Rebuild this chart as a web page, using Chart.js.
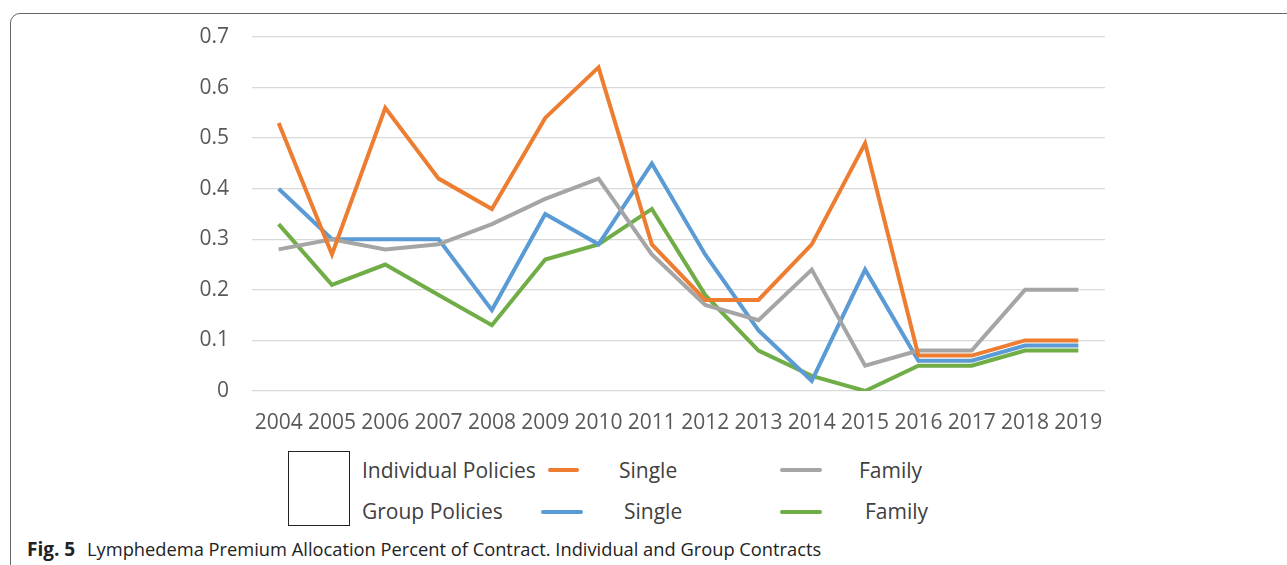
<!DOCTYPE html>
<html>
<head>
<meta charset="utf-8">
<script src="https://cdn.jsdelivr.net/npm/chart.js@4/dist/chart.umd.min.js"></script>
<style>
  body { margin: 0; background: #fff; font-family: "Open Sans", sans-serif; }
  #frame {
    position: absolute; left: 10px; top: 13px; width: 1300px; height: 600px;
    border: 1.5px solid #666; border-radius: 10px; box-sizing: border-box;
  }
  #chart-container { position: absolute; left: 0; top: 0; width: 1287px; height: 450px; }
  .legend-box { position: absolute; left: 288px; top: 451px; width: 62px; height: 75px; border: 1px solid #222; box-sizing: border-box; }
  .lg-text { position: absolute; font-size: 21px; color: #404040; line-height: 21px; white-space: nowrap; }
  .lg-line { position: absolute; height: 4px; border-radius: 2px; }
  #caption { position: absolute; left: 27px; top: 536px; font-size: 18.3px; color: #222; white-space: nowrap; }
  #caption b { font-size: 19px; font-weight: 700; display: inline-block; width: 60px; }
</style>
</head>
<body>
<div id="frame"></div>
<div id="chart-container"><canvas id="chart"></canvas></div>
<div id="legend"></div>
<div id="caption"><b>Fig. 5</b>Lymphedema Premium Allocation Percent of Contract. Individual and Group Contracts</div>
<script>
const years = ["2004", "2005", "2006", "2007", "2008", "2009", "2010", "2011",
  "2012", "2013", "2014", "2015", "2016", "2017", "2018", "2019"];

const individualSingle = [0.53, 0.27, 0.56, 0.42, 0.36, 0.54, 0.64, 0.29, 0.18, 0.18, 0.29, 0.49, 0.07, 0.07, 0.10, 0.10];
const individualFamily = [0.28, 0.30, 0.28, 0.29, 0.33, 0.38, 0.42, 0.27, 0.17, 0.14, 0.24, 0.05, 0.08, 0.08, 0.20, 0.20];
const groupSingle = [0.40, 0.30, 0.30, 0.30, 0.16, 0.35, 0.29, 0.45, 0.27, 0.12, 0.02, 0.24, 0.06, 0.06, 0.09, 0.09];
const groupFamily = [0.33, 0.21, 0.25, 0.19, 0.13, 0.26, 0.29, 0.36, 0.19, 0.08, 0.03, 0.00, 0.05, 0.05, 0.08, 0.08];

const yTicks = [0, 0.1, 0.2, 0.3, 0.4, 0.5, 0.6, 0.7];

const colors = {
  orange: "#ED7D31",
  gray: "#A5A5A5",
  blue: "#5B9BD5",
  green: "#70AD47",
};

function makeSet(label, data, color) {
  return {
    label: label,
    data: data,
    borderColor: color,
    backgroundColor: color,
    borderWidth: 4,
    pointRadius: 0,
    tension: 0,
    fill: false,
  };
}

const ctx = document.getElementById("chart").getContext("2d");

const chart = new Chart(ctx, {
  type: "line",
  data: {
    labels: years,
    datasets: [
      makeSet("Individual Policies Single", individualSingle, colors.orange),
      makeSet("Individual Policies Family", individualFamily, colors.gray),
      makeSet("Group Policies Single", groupSingle, colors.blue),
      makeSet("Group Policies Family", groupFamily, colors.green),
    ],
  },
  options: {
    responsive: true,
    maintainAspectRatio: false,
    animation: false,
    layout: { padding: { top: 37, right: 182, left: 0, bottom: 0 } },
    plugins: {
      legend: { display: false },
      tooltip: { enabled: false },
    },
    scales: {
      x: {
        offset: true,
        grid: { display: false, drawTicks: false },
        border: { display: false },
        ticks: {
          color: "#595959",
          font: { family: "Open Sans", size: 21 },
          padding: 19,
          maxRotation: 0,
          autoSkip: false,
        },
        afterFit: (scale) => { scale.height = 59; },
      },
      y: {
        min: 0,
        max: 0.7,
        afterBuildTicks: (scale) => {
          scale.ticks = yTicks.map((v) => ({ value: v }));
        },
        grid: { color: "#D9D9D9", lineWidth: 1.3, drawTicks: false },
        border: { display: false },
        ticks: {
          color: "#595959",
          font: { family: "Open Sans", size: 21 },
          padding: 23,
          callback: (v) => String(Math.round(v * 10) / 10),
        },
        afterFit: (scale) => { scale.width = 252; },
      },
    },
  },
});

// Legend laid out like the original figure
const legendItems = [
  { text: "Individual Policies", x: 362, y: 460 },
  { text: "Single", x: 619, y: 460 },
  { text: "Family", x: 859, y: 460 },
  { text: "Group Policies", x: 362, y: 501 },
  { text: "Single", x: 624, y: 501 },
  { text: "Family", x: 865, y: 501 },
];
const legendLines = [
  { color: colors.orange, x: 548, w: 31, y: 468 },
  { color: colors.gray, x: 780, w: 42, y: 468 },
  { color: colors.blue, x: 541, w: 42, y: 510 },
  { color: colors.green, x: 780, w: 42, y: 510 },
];
const legend = document.getElementById("legend");
const box = document.createElement("div");
box.className = "legend-box";
legend.appendChild(box);
legendItems.forEach((item) => {
  const el = document.createElement("div");
  el.className = "lg-text";
  el.textContent = item.text;
  el.style.left = item.x + "px";
  el.style.top = item.y + "px";
  legend.appendChild(el);
});
legendLines.forEach((item) => {
  const el = document.createElement("div");
  el.className = "lg-line";
  el.style.background = item.color;
  el.style.left = item.x + "px";
  el.style.width = item.w + "px";
  el.style.top = item.y + "px";
  legend.appendChild(el);
});
</script>
</body>
</html>
